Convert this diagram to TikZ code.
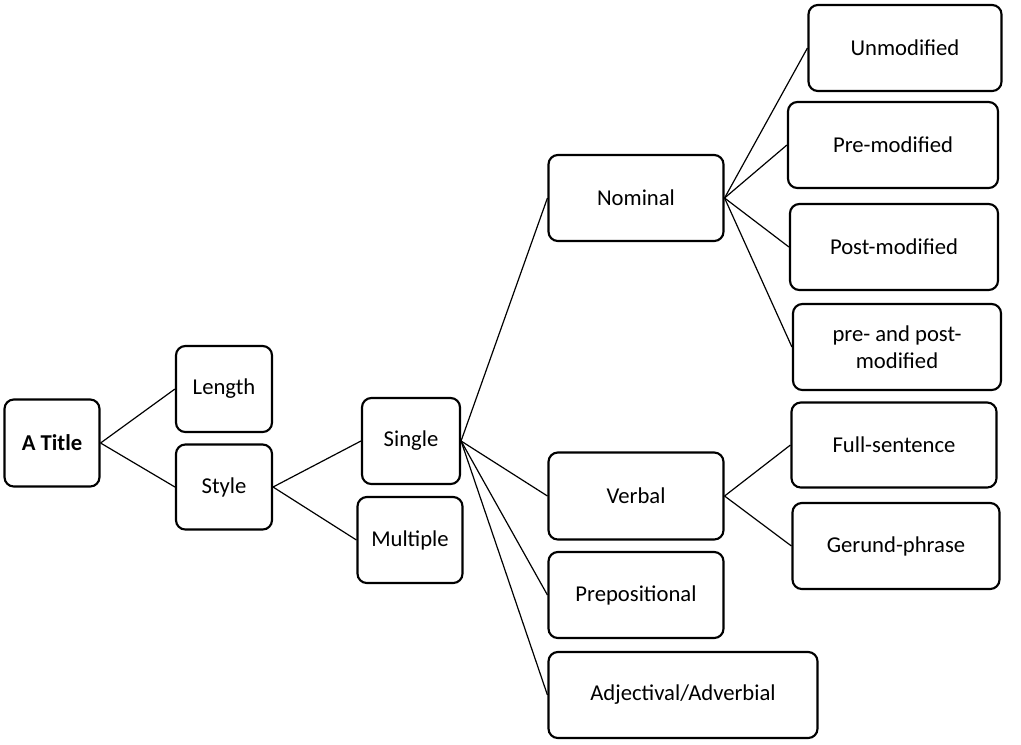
\documentclass[tikz,border=0pt]{standalone}
\usepackage{fontspec}
\setmainfont{Carlito}
\begin{document}
\begin{tikzpicture}[x=0.75pt,y=-0.75pt,
  box/.style 2 args={draw,line width=1.6pt,rounded corners=7pt,minimum width=#1*0.75pt,minimum height=#2*0.75pt,inner sep=2pt,align=center,font=\fontsize{17}{20}\selectfont},
  con/.style={line width=0.9pt}]
\useasboundingbox (0,0) rectangle (1021,744);
\node[box={95}{87},font=\fontsize{17}{20}\selectfont\bfseries] (title) at (52,443) {A Title};
\node[box={96}{86}] (len) at (224,389) {Length};
\node[box={96}{85}] (sty) at (224,487) {Style};
\node[box={98}{86}] (sin) at (411,441) {Single};
\node[box={105}{86}] (mul) at (410,540) {Multiple};
\node[box={175}{86}] (nom) at (636,198) {Nominal};
\node[box={175}{87}] (ver) at (636,496) {Verbal};
\node[box={175}{86}] (pre) at (636,595) {Prepositional};
\node[box={269}{86}] (adj) at (683,695) {Adjectival/Adverbial};
\node[box={193}{86}] (unm) at (905,48) {Unmodified};
\node[box={210}{86}] (prm) at (893,145) {Pre-modified};
\node[box={208}{86}] (pom) at (894,247) {Post-modified};
\node[box={208}{86}] (ppm) at (897,347) {pre- and post-\\modified};
\node[box={205}{85}] (ful) at (894,445) {Full-sentence};
\node[box={207}{86}] (ger) at (896,546) {Gerund-phrase};
\draw[con] (title.east) -- (len.west);
\draw[con] (title.east) -- (sty.west);
\draw[con] (sty.east) -- (sin.west);
\draw[con] (sty.east) -- (mul.west);
\foreach \t in {nom,ver,pre,adj} \draw[con] (sin.east) -- (\t.west);
\foreach \t in {unm,prm,pom,ppm} \draw[con] (nom.east) -- (\t.west);
\foreach \t in {ful,ger} \draw[con] (ver.east) -- (\t.west);
\end{tikzpicture}
\end{document}
